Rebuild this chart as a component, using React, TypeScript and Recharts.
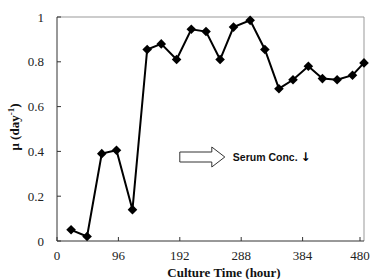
import React from 'react'
import { LineChart, Line, XAxis, YAxis, ReferenceLine, ReferenceDot } from 'recharts'

const hours = [22, 47, 70, 93, 118, 141, 163, 187, 210, 233, 255, 276, 302, 325, 347, 369, 393, 415, 438, 462, 480]
const mu = [0.05, 0.02, 0.39, 0.405, 0.14, 0.855, 0.88, 0.81, 0.945, 0.935, 0.81, 0.955, 0.985, 0.855, 0.68, 0.72, 0.78, 0.725, 0.72, 0.74, 0.795]
const xTicks = [0, 96, 192, 288, 384, 480]
const yTicks = [0, 0.2, 0.4, 0.6, 0.8, 1]

const data = hours.map((h, i) => ({ hour: h, mu: mu[i] }))

const serif = '"Liberation Serif", "DejaVu Serif", serif'

function Diamond(props: any) {
  const { cx, cy } = props
  if (cx == null || cy == null) return null
  const r = 4.8
  return <path d={`M${cx},${cy - r}L${cx + r},${cy}L${cx},${cy + r}L${cx - r},${cy}Z`} fill='#000' />
}

function XTick(props: any) {
  const { x, y, payload } = props
  return (
    <g>
      <line x1={x} y1={y} x2={x} y2={y - 4} stroke='#333' />
      <text x={x} y={y + 19} textAnchor='middle' fontFamily={serif} fontSize={13} fill='#222'>
        {payload.value}
      </text>
    </g>
  )
}

function YTick(props: any) {
  const { x, y, payload } = props
  return (
    <g>
      <line x1={x} y1={y} x2={x + 4} y2={y} stroke='#333' />
      <text x={x - 13} y={y + 4.5} textAnchor='end' fontFamily={serif} fontSize={13} fill='#222'>
        {payload.value}
      </text>
    </g>
  )
}

function Arrow(props: any) {
  const { cx, cy } = props
  return (
    <g>
      <path
        d={`M${cx},${cy - 5}L${cx + 32},${cy - 5}L${cx + 32},${cy - 10}L${cx + 45},${cy}L${cx + 32},${cy + 10}L${cx + 32},${cy + 5}L${cx},${cy + 5}Z`}
        fill='#fff'
        stroke='#333'
        strokeWidth={1}
      />
      <text x={cx + 53} y={cy + 4} fontFamily='"Liberation Sans", Arial, sans-serif' fontWeight='bold' fontSize={10.5} fill='#111'>
        Serum Conc.{' '}
        <tspan fontFamily='"DejaVu Sans", sans-serif' fontWeight='bold' fontSize={12} fill='#000'>↓</tspan>
      </text>
    </g>
  )
}

export default function App() {
  return (
    <div style={{ position: 'absolute', left: 0, top: 0, width: 372, height: 279, background: '#fff' }}>
      <LineChart width={372} height={279} data={data} margin={{ top: 17, right: 8, left: 0, bottom: 0 }}>
        <XAxis
          dataKey='hour'
          type='number'
          domain={[0, 480]}
          ticks={xTicks}
          height={38}
          tickSize={0}
          tickMargin={0}
          tick={<XTick />}
          stroke='#333'
          label={{
            content: () => (
              <text x={224} y={276.5} textAnchor='middle' fontFamily={serif} fontWeight='bold' fontSize={13} fill='#111'>
                Culture Time (hour)
              </text>
            )
          }}
        />
        <YAxis
          type='number'
          domain={[0, 1]}
          ticks={yTicks}
          width={57}
          tickSize={0}
          tickMargin={0}
          tick={<YTick />}
          stroke='#333'
          label={{
            content: () => (
              <text
                transform='translate(19,127) rotate(-90)'
                textAnchor='middle'
                fontFamily={serif}
                fontWeight='bold'
                fontSize={13}
                fill='#111'
              >
                μ (day<tspan dy={-5} fontSize={9}>-1</tspan><tspan dy={5}>)</tspan>
              </text>
            )
          }}
        />
        <ReferenceLine y={1} stroke='#999' />
        <ReferenceLine x={480} stroke='#999' />
        <ReferenceDot x={192} y={0.375} shape={<Arrow />} />
        <Line
          dataKey='mu'
          stroke='#000'
          strokeWidth={2}
          dot={<Diamond />}
          activeDot={false}
          isAnimationActive={false}
        />
      </LineChart>
    </div>
  )
}
